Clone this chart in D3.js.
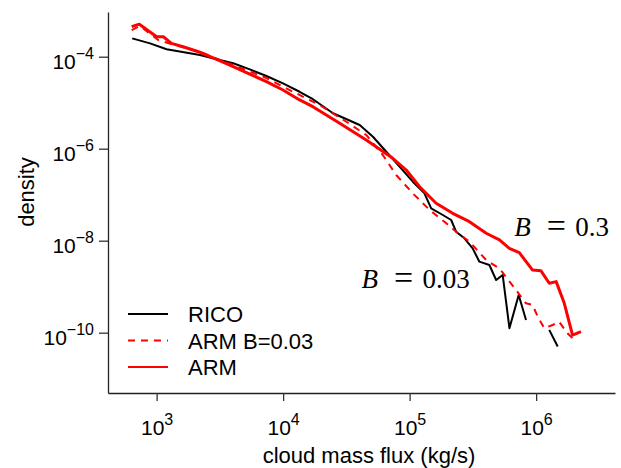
<!DOCTYPE html>
<html>
<head>
<meta charset="utf-8">
<script src="https://cdn.jsdelivr.net/npm/d3@7"></script>
<style>
  body { margin: 0; background: #fff; }
  svg { display: block; font-family: "Liberation Sans", Arial, sans-serif; }
</style>
</head>
<body>
<div id="chart"></div>
<script>
// values (flux in kg/s, density)
const ricoFlux = [641, 887, 1200, 2200, 2980, 4030, 5450, 7380, 9980, 13500, 17200, 24800, 40300, 51300, 65400, 83200,
  1.06e5, 1.31e5, 1.48e5, 1.83e5, 2.13e5, 2.33e5, 2.71e5, 3.15e5, 3.56e5, 4.27e5, 4.83e5, 5.44e5, 6.15e5, 7.28e5, 8.32e5,
  1.05e6, 1.27e6, 1.48e6];
const ricoDensity = [2.5e-4, 1.95e-4, 1.45e-4, 1.09e-4, 8.8e-5, 7.2e-5, 5.3e-5, 3.8e-5, 2.64e-5, 1.73e-5, 1.19e-5, 5.9e-6,
  3.28e-6, 1.82e-6, 8.6e-7, 4.06e-7, 1.92e-7, 1.07e-7, 5.06e-8, 3.62e-8, 2.82e-8, 1.57e-8, 1.13e-8, 6.8e-9, 3.5e-9, 2.96e-9,
  1.4e-9, 1.8e-9, 1.25e-10, 6.6e-10, 1.89e-10, null, 1.15e-10, 5e-11];

const armFlux = [635, 730, 1000, 1130, 1310, 1620, 2200, 2980, 4030, 5450, 7380, 9980, 13500, 17200, 28000, 45400, 73600,
  94000, 1.2e5, 1.62e5, 2.19e5, 2.97e5, 4.03e5, 5.13e5, 6.14e5, 7.36e5, 9.37e5, 1.09e6, 1.27e6, 1.44e6, 1.67e6, 1.94e6, 2.26e6];
const armDensity = [4.5e-4, 5.1e-4, 2.72e-4, 2.72e-4, 1.95e-4, 1.65e-4, 1.25e-4, 8.8e-5, 6.06e-5, 4.2e-5, 2.86e-5, 1.89e-5,
  1.15e-5, 8.2e-6, 3.56e-6, 1.55e-6, 6.2e-7, 3.44e-7, 1.49e-7, 6.5e-8, 3.94e-8, 2.59e-8, 1.45e-8, 1.04e-8, 6.8e-9, 5.5e-9,
  2.3e-9, 2.23e-9, 1.19e-9, 1.29e-9, 4.36e-10, 8.9e-11, 1.05e-10];

const armBFlux = [635, 738, 1030, 1310, 2200, 4030, 7380, 9980, 19400, 31600, 45400, 61400, 78300, 1.06e5, 1.44e5, 1.95e5,
  2.33e5, 2.97e5, 4.03e5, 5.13e5, 6.93e5, 8.32e5, 9.37e5, 1.03e6, 1.16e6, 1.35e6, 1.52e6, 1.77e6, 2.07e6];
const armBDensity = [3.8e-4, 4.65e-4, 2.3e-4, 1.89e-4, 1.27e-4, 6.6e-5, 3.44e-5, 2.23e-5, 8.9e-6, 3.86e-6, 1.99e-6, 7.3e-7,
  2.68e-7, 1.07e-7, 4.65e-8, 2.39e-8, 1.57e-8, 9.5e-9, 3.8e-9, 2.5e-9, 8.5e-10, 4.36e-10, 4e-10, 2.23e-10, 1.25e-10, 1.47e-10,
  1.73e-10, 9.7e-11, 6.4e-11];

const xTicks = [1e3, 1e4, 1e5, 1e6];
const yTicks = [1e-4, 1e-6, 1e-8, 1e-10];
const xExp = ["3", "4", "5", "6"];
const yExp = ["\u22124", "\u22126", "\u22128", "\u221210"];

const legendNames = ["RICO", "ARM B=0.03", "ARM"];
const annotNames = ["0.03", "0.3"];
const annotFlux = [4.17e4, 6.73e5];
const annotDensity = [9.4e-10, 1.26e-8];

const width = 621, height = 468;
const svg = d3.select("#chart").append("svg")
    .attr("width", width)
    .attr("height", height)

const x = d3.scaleLog().domain([Math.pow(10, 2.6156), Math.pow(10, 6.6235)]).range([108, 615])
const y = d3.scaleLog().domain([Math.pow(10, -11.311), Math.pow(10, -3.028)]).range([393, 12])

const series = [
  { name: legendNames[0], xs: ricoFlux, ys: ricoDensity, color: "#000", w: 2, dash: null },
  { name: legendNames[1], xs: armBFlux, ys: armBDensity, color: "#ff0000", w: 2, dash: "7,6" },
  { name: legendNames[2], xs: armFlux, ys: armDensity, color: "#ff0000", w: 3, dash: null }
]

const line = d3.line()
    .defined(d => d[1] != null)
    .x(d => x(d[0]))
    .y(d => y(d[1]))

// draw order: black, dashed, solid red on top
series.forEach(s => {
  svg.append("path")
      .datum(s.xs.map((v, i) => [v, s.ys[i]]))
      .attr("fill", "none")
      .attr("stroke", s.color)
      .attr("stroke-width", s.w)
      .attr("stroke-dasharray", s.dash)
      .attr("stroke-linejoin", "round")
      .attr("d", line)
})

// axes
const xAxis = svg.append("g")
    .attr("transform", "translate(0,393)")
    .call(d3.axisBottom(x).tickValues(xTicks).tickSize(8).tickSizeOuter(0).tickFormat(""))
const yAxis = svg.append("g")
    .attr("transform", "translate(108,0)")
    .call(d3.axisLeft(y).tickValues(yTicks).tickSize(9).tickSizeOuter(0).tickFormat(""))

svg.selectAll(".domain").attr("stroke", "#222").attr("stroke-width", 1.3)
svg.selectAll(".tick line").attr("stroke", "#333").attr("stroke-width", 1.3)

xAxis.selectAll(".tick").each(function (d, i) {
  const t = d3.select(this).append("text")
      .attr("y", 42)
      .attr("text-anchor", "middle")
      .attr("fill", "#000")
      .style("font-size", "21px")
  t.append("tspan").text("10")
  t.append("tspan").attr("dy", -10).style("font-size", "16px").text(xExp[i])
})

yAxis.selectAll(".tick").each(function (d, i) {
  const t = d3.select(this).append("text")
      .attr("x", -14)
      .attr("y", 12)
      .attr("text-anchor", "end")
      .attr("fill", "#000")
      .style("font-size", "21px")
  t.append("tspan").text("10")
  t.append("tspan").attr("dy", -10).style("font-size", "16px").text(yExp[i])
})

// axis titles
svg.append("text")
    .attr("x", 369)
    .attr("y", 463)
    .attr("text-anchor", "middle")
    .style("font-size", "22px")
    .text("cloud mass flux (kg/s)")

svg.append("text")
    .attr("transform", "translate(34,192) rotate(-90)")
    .attr("text-anchor", "middle")
    .style("font-size", "22px")
    .text("density")

// legend
const legend = svg.append("g").attr("transform", "translate(128,314)")
series.forEach((s, i) => {
  const g = legend.append("g").attr("transform", `translate(0,${i * 26.5})`)
  g.append("line")
      .attr("x1", 0).attr("x2", 40)
      .attr("stroke", s.color)
      .attr("stroke-width", 2)
      .attr("stroke-dasharray", s.dash)
  g.append("text")
      .attr("x", 60)
      .attr("y", 8)
      .style("font-size", "22px")
      .text(s.name)
})

// B = ... annotations
annotNames.forEach((txt, i) => {
  const g = svg.append("g")
      .attr("transform", `translate(${x(annotFlux[i])},${y(annotDensity[i])})`)
      .style("font-family", "'Liberation Serif', 'DejaVu Serif', serif")
      .style("font-size", "27px")
  g.append("text").style("font-style", "italic").text("B")
  g.append("text").attr("x", 42).attr("text-anchor", "middle").style("font-size", "34px").attr("y", 1).text("=")
  g.append("text").attr("x", 61).text(txt)
})
</script>
</body>
</html>
